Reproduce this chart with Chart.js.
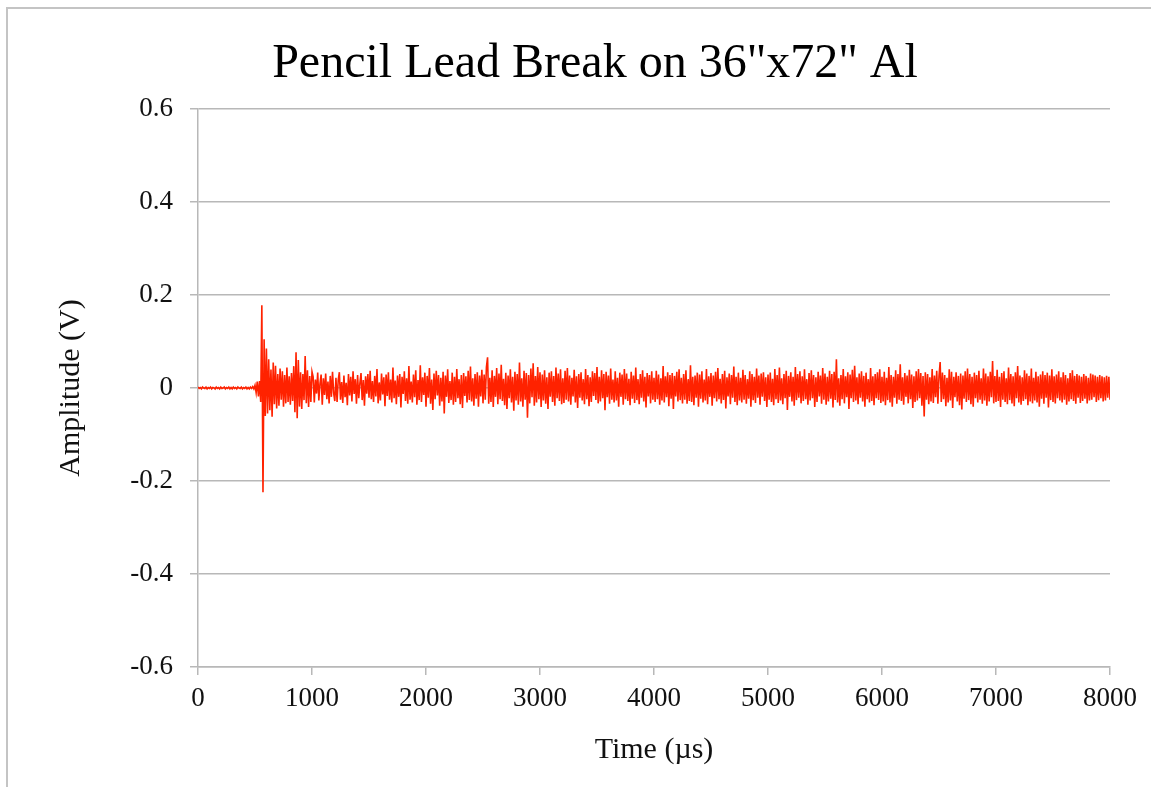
<!DOCTYPE html>
<html>
<head>
<meta charset="utf-8">
<title>Pencil Lead Break</title>
<script src="https://cdn.jsdelivr.net/npm/chart.js@4.4.1/dist/chart.umd.min.js"></script>
<style>
    html, body { margin: 0; padding: 0; background: #fff; }
    #wrap { position: relative; width: 1151px; height: 787px; }
    #frame {
        position: absolute; left: 6px; top: 7px; right: 0; bottom: 0;
        border-top: 2px solid #c4c4c4; border-left: 2px solid #c4c4c4;
        pointer-events: none;
    }
</style>
</head>
<body>
<div id="wrap">
    <canvas id="waveChart" width="1151" height="787"></canvas>
    <div id="frame"></div>
</div>
<script>
// Chart text
const chartTitle = 'Pencil Lead Break on 36"x72" Al';
const xAxisTitle = 'Time (\u00b5s)';
const yAxisTitle = 'Amplitude (V)';

// Trace, one sample every 10 us starting at 0
const startTime = 0;
const sampleStep = 10;

// 0 - 530 us: before the break
const preTrigger = [
    0.002, -0.001, 0.001, -0.002, 0.002, 0.000, -0.001, 0.002, -0.002, 0.001,
    -0.001, 0.002, -0.002, 0.001, 0.000, -0.002, 0.002, -0.001, 0.001, -0.002,
    0.002, -0.001, 0.000, 0.002, -0.002, 0.001, -0.001, 0.002, -0.002, 0.001,
    -0.002, 0.002, -0.001, 0.001, -0.002, 0.002, 0.000, -0.001, 0.002, -0.002,
    0.001, -0.001, 0.002, -0.002, 0.001, -0.002, 0.002, -0.001, 0.003, -0.002,
    0.006, -0.010, 0.014, -0.018
];

// 540 - 1000 us: the burst
const burst = [
    0.015, -0.030, 0.178, -0.224, 0.105, -0.060, 0.085, -0.055, 0.062, -0.048,
    0.040, -0.062, 0.055, -0.035, 0.048, -0.044, 0.030, -0.038, 0.042, -0.025,
    0.036, -0.040, 0.028, -0.033, 0.044, -0.030, 0.025, -0.036, 0.032, -0.028,
    0.047, -0.052, 0.077, -0.065, 0.060, -0.040, 0.034, -0.045, 0.030, -0.026,
    0.069, -0.033, 0.038, -0.041, 0.026, -0.030, 0.035
];

// 1010 - 8000 us: ringing, one row per 250 us
const ringing = [
    0.024, -0.031, 0.018, -0.012, 0.033, -0.027, 0.009, 0.029, -0.036, 0.021, -0.015, 0.031, -0.024, 0.014, -0.033, 0.026, -0.019, 0.035, -0.011, -0.028, 0.022, -0.030, 0.017, 0.034, -0.025,
    0.013, -0.032, 0.027, -0.020, 0.011, -0.037, 0.030, -0.016, 0.024, -0.029, 0.036, -0.013, 0.019, -0.034, 0.028, -0.022, 0.010, 0.032, -0.026, 0.017, -0.038, 0.025, -0.012, 0.030, -0.021,
    0.037, -0.024, 0.015, -0.030, 0.026, -0.018, 0.041, -0.033, 0.012, -0.027, 0.031, -0.014, 0.023, -0.039, 0.029, -0.017, 0.034, -0.025, 0.018, -0.031, 0.044, -0.022, 0.016, -0.035, 0.027,
    -0.019, 0.030, -0.042, 0.024, -0.013, 0.036, -0.028, 0.021, -0.034, 0.047, -0.025, 0.014, -0.031, 0.029, -0.020, 0.038, -0.036, 0.017, -0.026, 0.049, -0.030, 0.023, -0.015, 0.033, -0.040,
    0.026, -0.021, 0.043, -0.034, 0.018, -0.047, 0.031, -0.024, 0.037, -0.016, 0.028, -0.038, 0.022, -0.029, 0.035, -0.055, 0.027, -0.019, 0.040, -0.032, 0.015, -0.026, 0.033, -0.036, 0.024,
    -0.030, 0.041, -0.022, 0.019, -0.035, 0.028, -0.043, 0.032, -0.017, 0.025, -0.031, 0.037, -0.026, 0.046, -0.029, 0.021, -0.038, 0.030, -0.023, 0.034, -0.040, 0.027, -0.018, 0.039, -0.033,
    0.029, -0.025, 0.045, 0.066, -0.034, 0.022, -0.030, 0.038, -0.041, 0.026, -0.019, 0.043, -0.035, 0.031, -0.024, 0.050, -0.028, 0.020, -0.037, 0.033, -0.045, 0.027, -0.022, 0.040, -0.031,
    0.024, -0.049, 0.035, -0.027, 0.030, -0.036, 0.055, -0.029, 0.021, -0.040, 0.037, -0.025, 0.032, -0.064, 0.028, -0.033, 0.042, -0.020, 0.053, -0.038, 0.026, -0.031, 0.045, -0.024, 0.034,
    -0.041, 0.029, -0.027, 0.038, -0.034, 0.023, -0.045, 0.033, -0.019, 0.036, -0.030, 0.026, -0.038, 0.044, -0.022, 0.031, -0.028, 0.040, -0.035, 0.021, -0.032, 0.037, -0.025, 0.043, -0.029,
    0.027, -0.036, 0.022, -0.018, 0.039, -0.031, 0.025, -0.043, 0.030, -0.021, 0.034, -0.027, 0.019, -0.035, 0.041, -0.024, 0.028, -0.039, 0.023, -0.030, 0.036, -0.017, 0.032, -0.026, 0.045,
    -0.033, 0.024, -0.029, 0.038, -0.022, 0.030, -0.048, 0.035, -0.020, 0.027, -0.034, 0.042, -0.025, 0.018, -0.031, 0.036, -0.027, 0.022, -0.040, 0.033, -0.019, 0.029, -0.036, 0.041, -0.024,
    0.031, -0.028, 0.020, -0.037, 0.035, -0.023, 0.027, -0.032, 0.044, -0.026, 0.019, -0.035, 0.030, -0.021, 0.038, -0.029, 0.024, -0.042, 0.032, -0.018, 0.028, -0.033, 0.036, -0.025, 0.022,
    -0.030, 0.037, -0.024, 0.029, -0.036, 0.021, -0.027, 0.047, -0.031, 0.025, -0.020, 0.034, -0.039, 0.028, -0.023, 0.032, -0.045, 0.026, -0.018, 0.035, -0.029, 0.040, -0.026, 0.022, -0.033,
    0.030, -0.025, 0.038, -0.034, 0.019, -0.028, 0.049, -0.030, 0.024, -0.037, 0.027, -0.021, 0.033, -0.040, 0.029, -0.023, 0.036, -0.031, 0.018, -0.027, 0.041, -0.035, 0.025, -0.019, 0.032,
    -0.038, 0.027, -0.022, 0.035, -0.029, 0.043, -0.024, 0.020, -0.033, 0.030, -0.026, 0.037, -0.044, 0.023, -0.018, 0.031, -0.035, 0.028, -0.021, 0.046, -0.030, 0.024, -0.037, 0.033, -0.027,
    0.022, -0.031, 0.039, -0.025, 0.028, -0.034, 0.019, -0.023, 0.036, -0.040, 0.030, -0.026, 0.024, -0.032, 0.042, -0.021, 0.027, -0.036, 0.031, -0.019, 0.034, -0.028, 0.023, -0.041, 0.029,
    -0.025, 0.033, -0.030, 0.020, -0.037, 0.041, -0.024, 0.028, -0.032, 0.044, -0.027, 0.021, -0.035, 0.030, -0.022, 0.037, -0.047, 0.026, -0.019, 0.034, -0.029, 0.024, -0.038, 0.045, -0.026,
    0.030, -0.021, 0.036, -0.033, 0.025, -0.028, 0.040, -0.024, 0.019, -0.036, 0.032, -0.027, 0.038, -0.022, 0.028, -0.041, 0.023, -0.030, 0.035, -0.018, 0.027, -0.034, 0.043, -0.025, 0.031,
    -0.036, 0.024, -0.029, 0.037, -0.023, 0.030, -0.042, 0.035, -0.026, 0.062, -0.031, 0.021, -0.038, 0.028, -0.024, 0.041, -0.033, 0.025, -0.020, 0.034, -0.045, 0.029, -0.022, 0.039, -0.030,
    0.048, -0.027, 0.023, -0.035, 0.031, -0.021, 0.036, -0.029, 0.026, -0.040, 0.033, -0.024, 0.019, -0.031, 0.043, -0.028, 0.025, -0.037, 0.030, -0.022, 0.034, -0.026, 0.040, -0.032, 0.024,
    -0.029, 0.035, -0.037, 0.022, -0.026, 0.045, -0.031, 0.028, -0.040, 0.024, -0.021, 0.038, -0.034, 0.030, -0.025, 0.051, -0.028, 0.023, -0.036, 0.032, -0.019, 0.027, -0.033, 0.039, -0.024,
    0.029, -0.043, 0.025, -0.030, 0.036, -0.027, 0.041, -0.022, 0.032, -0.038, 0.026, -0.061, 0.034, -0.025, 0.030, -0.035, 0.023, -0.029, 0.041, -0.032, 0.027, -0.020, 0.037, -0.034, 0.025,
    0.056, -0.030, 0.033, -0.024, 0.028, -0.039, 0.022, -0.031, 0.040, -0.027, 0.035, -0.043, 0.024, -0.020, 0.034, -0.029, 0.026, -0.037, 0.031, -0.046, 0.027, -0.023, 0.036, -0.030, 0.042,
    -0.026, 0.030, -0.035, 0.024, -0.040, 0.033, -0.022, 0.028, -0.031, 0.037, -0.025, 0.021, -0.034, 0.042, -0.027, 0.031, -0.038, 0.025, -0.029, 0.035, -0.020, 0.058, -0.033, 0.026, -0.030,
    0.039, -0.028, 0.024, -0.041, 0.032, -0.025, 0.036, -0.030, 0.021, -0.035, 0.044, -0.026, 0.030, -0.033, 0.025, -0.039, 0.034, -0.022, 0.047, -0.031, 0.027, -0.036, 0.023, -0.028, 0.038,
    -0.024, 0.031, -0.037, 0.026, -0.029, 0.042, -0.033, 0.022, -0.027, 0.035, -0.031, 0.025, -0.040, 0.029, -0.023, 0.036, -0.034, 0.028, -0.021, 0.033, -0.042, 0.027, -0.026, 0.040, -0.030,
    0.025, -0.033, 0.029, -0.022, 0.036, -0.027, 0.023, -0.031, 0.034, -0.025, 0.028, -0.036, 0.021, -0.029, 0.032, -0.024, 0.038, -0.028, 0.026, -0.034, 0.030, -0.021, 0.027, -0.032, 0.024,
    -0.028, 0.030, -0.023, 0.026, -0.033, 0.022, -0.027, 0.031, -0.025, 0.029, -0.020, 0.027, -0.030, 0.024, -0.026, 0.028, -0.022, 0.025, -0.029, 0.023, -0.027, 0.026, -0.021, 0.024, -0.025
];

// Axis ranges and ticks
const xMin = 0, xMax = 8000, xStep = 1000;
const yMin = -0.6, yMax = 0.6, yStep = 0.2;

const serif = '"Liberation Serif", "Times New Roman", Times, serif';
const gridGray = '#b8b8b8';
const traceRed = '#ff2200';

// sample i sits at startTime + i * sampleStep
const amplitudes = [...preTrigger, ...burst, ...ringing];
const trace = amplitudes.map((v, i) => ({ x: startTime + i * sampleStep, y: v }));

// Title drawn by hand so it can sit where the original one does
const titlePlugin = {
    id: 'slideTitle',
    afterDraw(chart) {
        const { ctx } = chart;
        ctx.save();
        ctx.font = '48px ' + serif;
        ctx.fillStyle = '#000';
        ctx.textAlign = 'center';
        ctx.textBaseline = 'alphabetic';
        ctx.fillText(chartTitle, 595, 77);
        ctx.restore();
    }
};

const ctx = document.getElementById('waveChart').getContext('2d');
new Chart(ctx, {
    type: 'line',
    data: {
        datasets: [{
            label: 'Amplitude',
            data: trace,
            borderColor: traceRed,
            borderWidth: 1.6,
            pointRadius: 0,
            tension: 0,
            fill: false
        }]
    },
    plugins: [titlePlugin],
    options: {
        responsive: false,
        animation: false,
        parsing: false,
        normalized: true,
        layout: { padding: { left: 0, right: 41, top: 109, bottom: 0 } },
        plugins: {
            legend: { display: false },
            title: { display: false },
            tooltip: { enabled: false }
        },
        scales: {
            x: {
                type: 'linear',
                min: xMin,
                max: xMax,
                afterFit(scale) { scale.height = 120; },
                border: { color: gridGray, width: 1.5 },
                grid: { drawOnChartArea: false, color: gridGray, tickLength: 8, lineWidth: 1.5 },
                ticks: {
                    stepSize: xStep,
                    padding: 8,
                    color: '#111',
                    font: { family: serif, size: 27 },
                    maxRotation: 0,
                    callback: (v) => String(v)
                },
                title: {
                    display: true,
                    text: xAxisTitle,
                    color: '#111',
                    font: { family: serif, size: 30 },
                    padding: { top: 0, bottom: 19 }
                }
            },
            y: {
                min: yMin,
                max: yMax,
                afterFit(scale) { scale.width = 198; },
                border: { color: gridGray, width: 1.5 },
                grid: { color: gridGray, tickLength: 8, lineWidth: 1.5 },
                ticks: {
                    stepSize: yStep,
                    padding: 17,
                    color: '#111',
                    font: { family: serif, size: 27 },
                    callback: (v) => String(Number(v.toFixed(1)))
                },
                title: {
                    display: true,
                    text: yAxisTitle,
                    color: '#111',
                    font: { family: serif, size: 30 },
                    padding: { top: 53, bottom: 0 }
                }
            }
        }
    }
});
</script>
</body>
</html>
